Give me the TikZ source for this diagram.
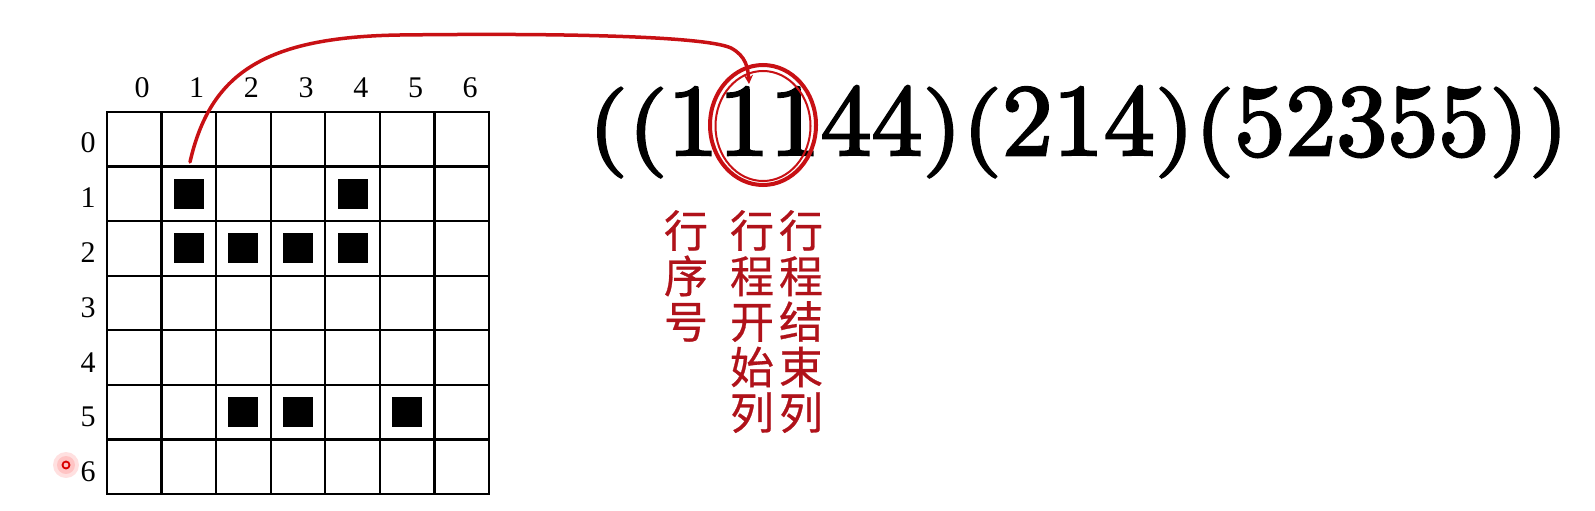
\documentclass[tikz,border=0pt]{standalone}
\usepackage{fontspec}
\setmainfont{Liberation Serif}
\newfontfamily\cjk[FakeBold=0.6]{Noto Sans CJK SC}
\newfontfamily\fmfont[Extension=.otf, FakeBold=2.5]{lmroman10-regular}
\usetikzlibrary{arrows.meta}
\definecolor{curvered}{RGB}{200,16,20}
\definecolor{textred}{RGB}{176,18,26}
\newcommand{\lpar}{\scalebox{1}[0.88]{(}}
\newcommand{\rpar}{\scalebox{1}[0.88]{)}}
\tikzset{
  gridline/.style={line width=2.2pt, black, line cap=rect},
  blk/.style={fill=black, minimum size=30pt, inner sep=0pt, draw=none},
  lbl/.style={font=\fontsize{30}{30}\selectfont, inner sep=0pt},
  cjkcol/.style={anchor=north, inner sep=0pt, align=center, text=textred,
    font=\cjk\fontsize{44}{45.5}\selectfont},
  link/.style={curvered, line width=3.5pt, line cap=round,
    -{Stealth[length=9pt,width=9pt]}},
}
\begin{document}
\begin{tikzpicture}[x=1pt,y=-1pt]
\useasboundingbox (0,0) rectangle (1595,511);
\fill[white] (0,0) rectangle (1595,511);
\def\cs{54.571}
% grid
\foreach \i in {0,...,7} {
  \draw[gridline] ({107+\i*\cs},112) -- ({107+\i*\cs},494);
  \draw[gridline] (107,{112+\i*\cs}) -- (489,{112+\i*\cs});
}
% labels
\foreach \i in {0,...,6} {
  \node[lbl] (col\i) at ({142+\i*54.7},88) {\i};
  \node[lbl] (row\i) at (88,{143+\i*54.8}) {\i};
}
% black cells
\foreach \c/\r [count=\k] in {1/1,4/1,1/2,2/2,3/2,4/2,2/5,3/5,5/5} {
  \node[blk] (b\k) at ({107+(\c+0.5)*\cs},{112+(\r+0.5)*\cs}) {};
}
% formula
\node[anchor=base west, inner sep=0pt, font=\fmfont\fontsize{102}{102}\selectfont] (formula) at (588,155)
  {\lpar\lpar11144\rpar\lpar214\rpar\lpar52355\rpar\rpar};
% circle
\draw[curvered, line width=4pt] (763,125) ellipse [x radius=53, y radius=60];
\draw[curvered, line width=2pt] (763,126) ellipse [x radius=47.5, y radius=55];
% link
\coordinate (start) at (190,162);
\coordinate (tip) at (749,84);
\draw[link] (start) .. controls (210,75) and (262,37) .. (400,35)
  .. controls (560,33) and (705,36) .. (731,48)
  .. controls (746,56) and (748,68) .. (tip);
% chinese labels
\node[cjkcol] (c1) at (686,210) {行\\序\\号};
\node[cjkcol] (c2) at (752,210) {行\\程\\开\\始\\列};
\node[cjkcol] (c3) at (801,210) {行\\程\\结\\束\\列};
% cursor mark
\fill[red, opacity=0.12] (66,465) circle (13);
\fill[red, opacity=0.12] (66,465) circle (9);
\draw[red!85!black, line width=1.8pt] (66,465) circle (3.5);
\end{tikzpicture}
\end{document}
